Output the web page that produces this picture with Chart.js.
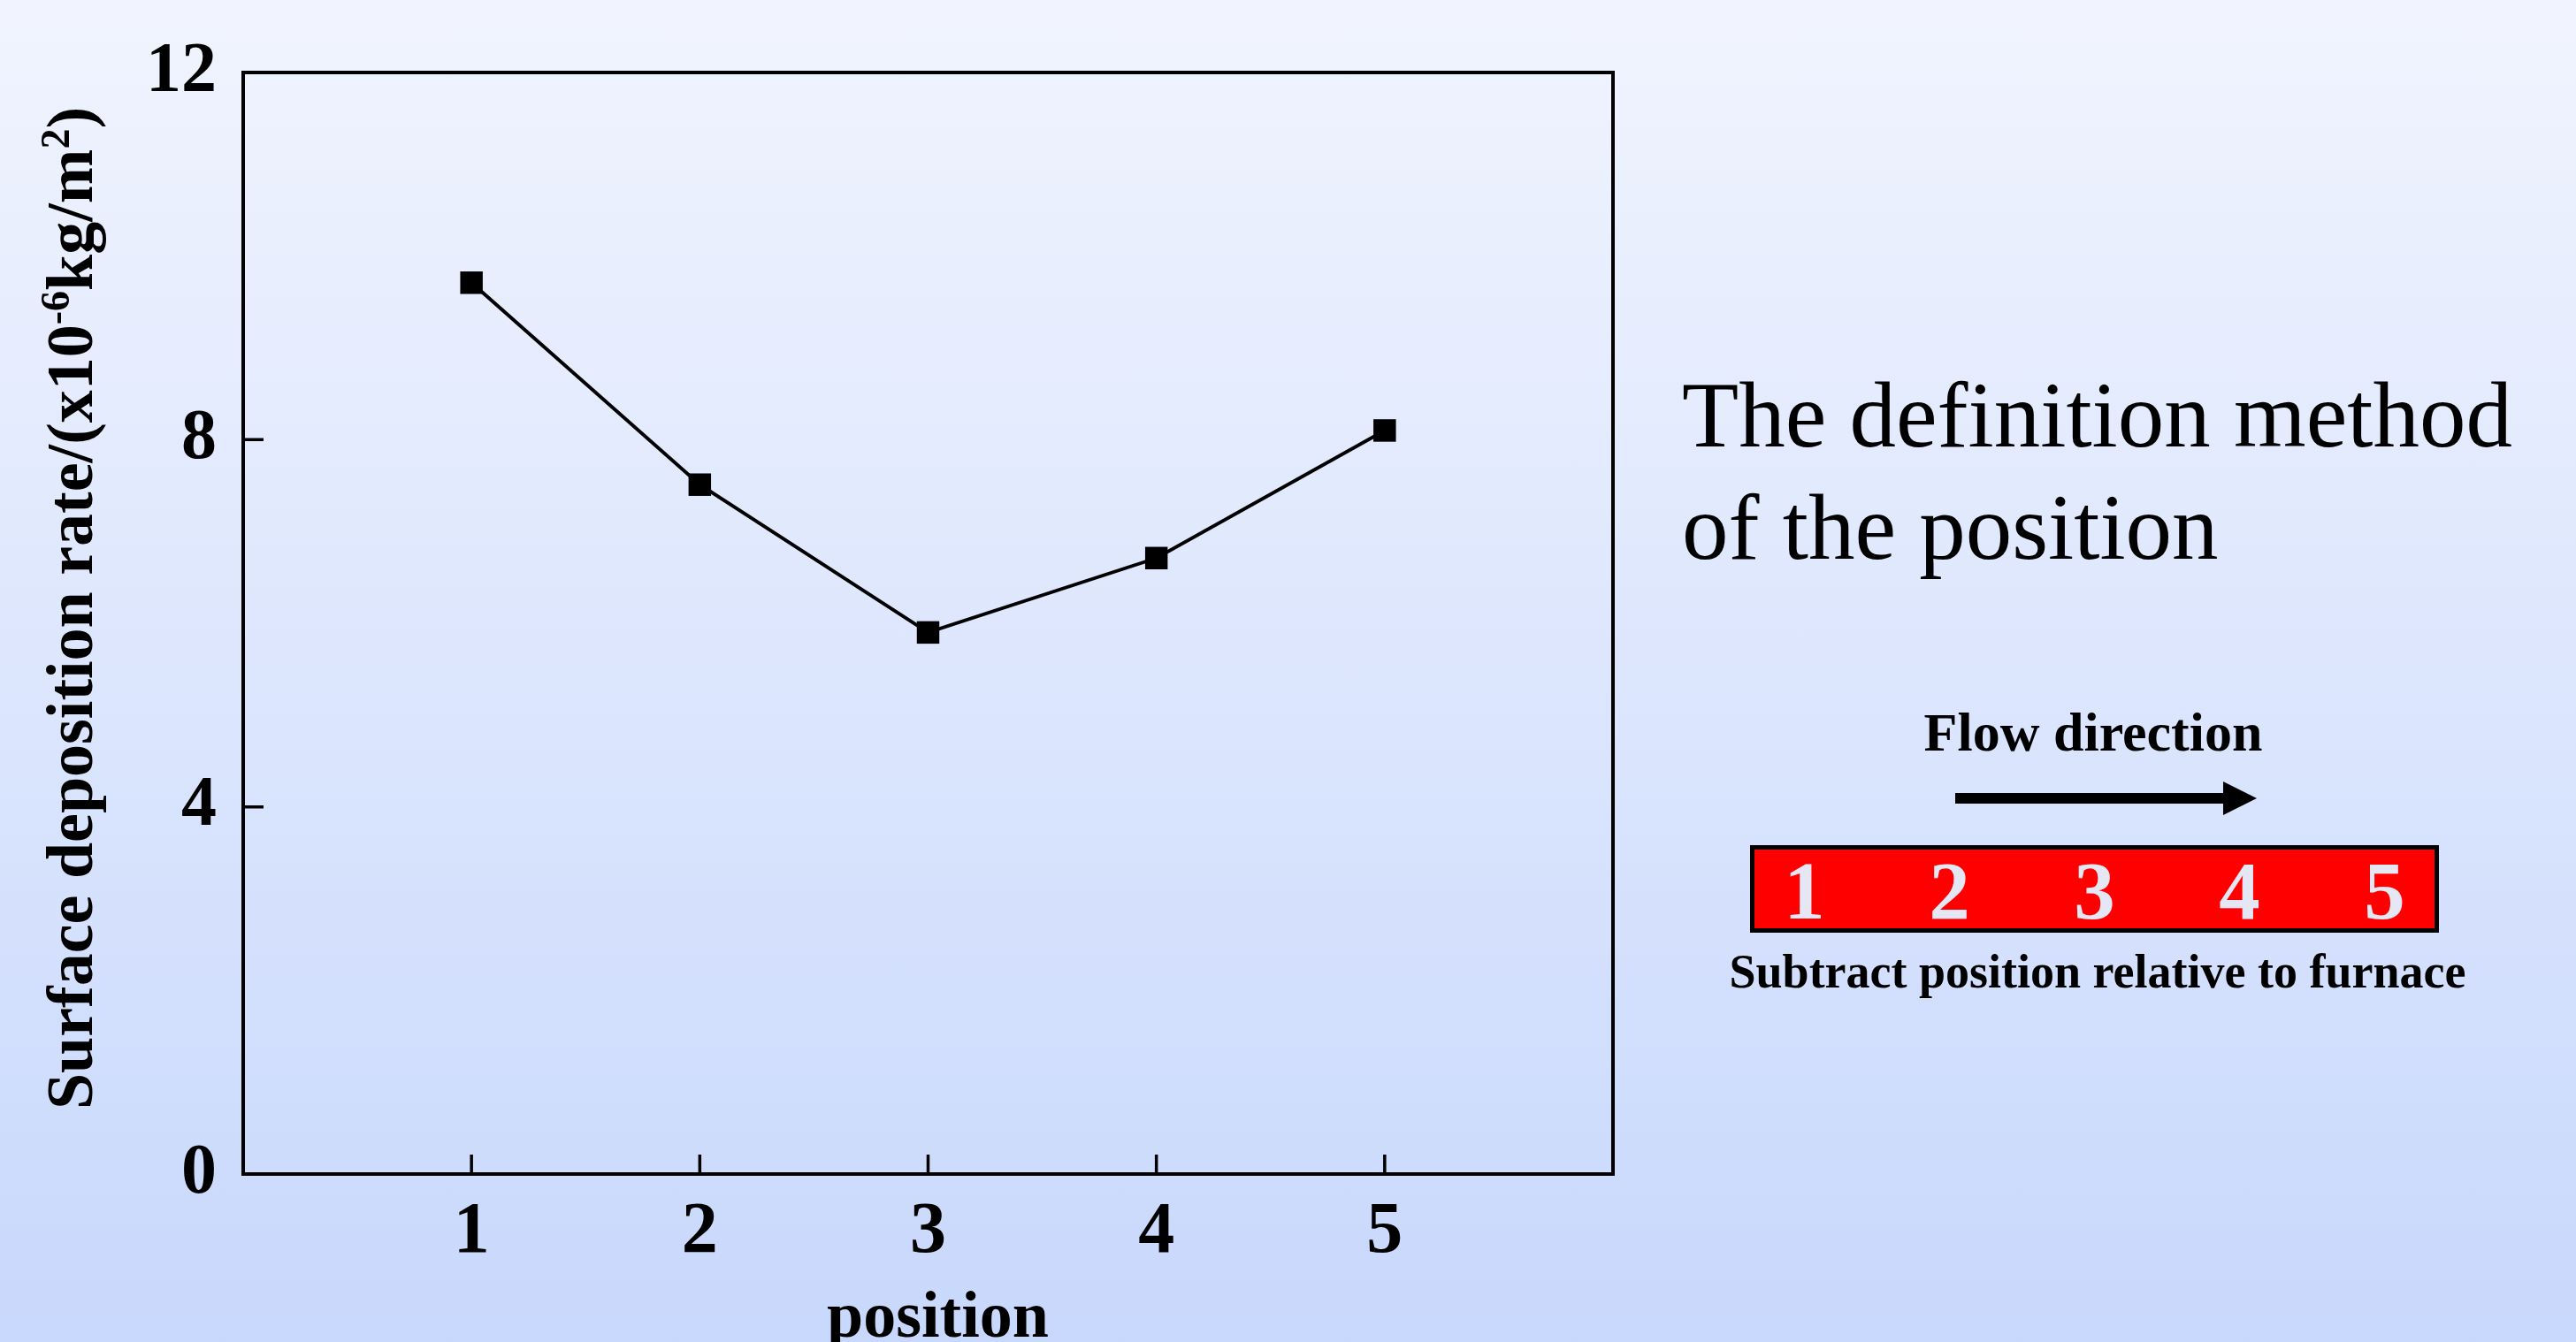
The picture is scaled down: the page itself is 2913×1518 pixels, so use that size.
<!DOCTYPE html>
<html lang="en">
<head>
  <meta charset="UTF-8" />
  <title>Surface deposition rate by position</title>
  <script src="https://cdn.jsdelivr.net/npm/chart.js"></script>
  <style>
    * { margin: 0; padding: 0; box-sizing: border-box; }
    body {
      width: 2913px;
      height: 1518px;
      overflow: hidden;
      position: relative;
      font-family: 'Liberation Serif', 'Times New Roman', serif;
      background: linear-gradient(to bottom, #f1f4fe 0%, #c8d8fc 100%);
      color: #000;
    }
    #chartBox { position: absolute; left: 0; top: 0; width: 1900px; height: 1518px; }
    .note {
      position: absolute;
      left: 1902px;
      top: 406px;
      font-size: 105px;
      line-height: 127px;
      white-space: nowrap;
    }
    .flow {
      position: absolute;
      left: 2167px;
      top: 797px;
      width: 400px;
      text-align: center;
      font-size: 62px;
      font-weight: bold;
      line-height: 1;
      white-space: nowrap;
    }
    .arrow { position: absolute; left: 2205px; top: 878px; }
    .furnace {
      position: absolute;
      left: 1979px;
      top: 956px;
      width: 779px;
      height: 99px;
      background: #ff0000;
      border: 5px solid #000;
      display: grid;
      grid-template-columns: repeat(5, 164px);
      justify-content: center;
    }
    .furnace span {
      text-align: center;
      font-size: 93px;
      font-weight: bold;
      line-height: 1;
      color: #e6e7f4;
    }
    .caption {
      position: absolute;
      left: 1922px;
      top: 1072px;
      width: 900px;
      text-align: center;
      font-size: 54px;
      font-weight: bold;
      line-height: 1;
      white-space: nowrap;
    }
  </style>
</head>
<body>
  <div id="chartBox"><canvas id="chart" width="1900" height="1518"></canvas></div>

  <div class="note">The definition method<br>of the position</div>
  <div class="flow">Flow direction</div>
  <svg class="arrow" width="360" height="50">
    <rect x="6" y="19" width="306" height="12" fill="#000"/>
    <polygon points="309,6 347,25 309,44" fill="#000"/>
  </svg>
  <div class="furnace" id="furnace"></div>
  <div class="caption">Subtract position relative to furnace</div>

<script>
// data
const positions = [1, 2, 3, 4, 5];
const depositionRates = [9.71, 7.51, 5.90, 6.71, 8.10];
const xTicks = [1, 2, 3, 4, 5];
const yTicks = [0, 4, 8, 12];
const boxLabels = ['1', '2', '3', '4', '5'];

const FONT = "'Liberation Serif', 'Times New Roman', serif";

// furnace diagram numbers
const furnace = document.getElementById('furnace');
boxLabels.forEach(t => {
  const s = document.createElement('span');
  s.textContent = t;
  furnace.appendChild(s);
});

// frame, inward ticks and axis titles
const framePlugin = {
  id: 'frame',
  afterDraw(chart) {
    const { ctx, chartArea: a, scales: { x, y } } = chart;
    ctx.save();
    ctx.strokeStyle = '#000';
    ctx.lineWidth = 4;
    ctx.strokeRect(a.left, a.top, a.right - a.left, a.bottom - a.top);

    ctx.lineWidth = 3.5;
    ctx.beginPath();
    xTicks.forEach(v => {
      const px = x.getPixelForValue(v);
      ctx.moveTo(px, a.bottom);
      ctx.lineTo(px, a.bottom - 22);
    });
    yTicks.forEach(v => {
      const py = y.getPixelForValue(v);
      ctx.moveTo(a.left, py);
      ctx.lineTo(a.left + 23, py);
    });
    ctx.stroke();

    // x title
    ctx.fillStyle = '#000';
    ctx.font = `bold 74px ${FONT}`;
    ctx.textAlign = 'center';
    ctx.textBaseline = 'alphabetic';
    ctx.fillText('position', (a.left + a.right) / 2 + 11, 1512);

    // y title with superscripts
    const runs = [
      { t: 'Surface deposition rate/(x10', sup: false },
      { t: '-6', sup: true },
      { t: 'kg/m', sup: false },
      { t: '2', sup: true },
      { t: ')', sup: false }
    ];
    const mainFont = `bold 74px ${FONT}`;
    const supFont = `bold 46px ${FONT}`;
    let total = 0;
    runs.forEach(r => {
      ctx.font = r.sup ? supFont : mainFont;
      r.w = ctx.measureText(r.t).width;
      total += r.w;
    });
    ctx.translate(104, (a.top + a.bottom) / 2 - 17);
    ctx.rotate(-Math.PI / 2);
    ctx.textAlign = 'left';
    let cx = -total / 2;
    runs.forEach(r => {
      ctx.font = r.sup ? supFont : mainFont;
      ctx.fillText(r.t, cx, r.sup ? -26 : 0);
      cx += r.w;
    });
    ctx.restore();
  }
};

new Chart(document.getElementById('chart'), {
  type: 'line',
  data: {
    datasets: [{
      data: positions.map((p, i) => ({ x: p, y: depositionRates[i] })),
      borderColor: '#000',
      borderWidth: 4,
      pointStyle: 'rect',
      pointRadius: 18,
      pointBackgroundColor: '#000',
      pointBorderWidth: 0,
      tension: 0,
      fill: false
    }]
  },
  options: {
    responsive: false,
    animation: false,
    layout: { padding: { top: 82, right: 76, left: 0, bottom: 0 } },
    plugins: { legend: { display: false }, tooltip: { enabled: false } },
    scales: {
      x: {
        type: 'linear',
        min: 0,
        max: 6,
        afterBuildTicks: s => { s.ticks = xTicks.map(v => ({ value: v })); },
        afterFit: s => { s.height = 190; },
        grid: { display: false, drawTicks: false },
        border: { display: false },
        ticks: {
          padding: 18,
          color: '#000',
          font: { family: FONT, size: 82, weight: 'bold' }
        }
      },
      y: {
        min: 0,
        max: 12,
        afterBuildTicks: s => { s.ticks = yTicks.map(v => ({ value: v })); },
        afterFit: s => { s.width = 275; },
        grid: { display: false, drawTicks: false },
        border: { display: false },
        ticks: {
          padding: 30,
          color: '#000',
          font: { family: FONT, size: 80, weight: 'bold' }
        }
      }
    }
  },
  plugins: [framePlugin]
});
</script>
</body>
</html>
